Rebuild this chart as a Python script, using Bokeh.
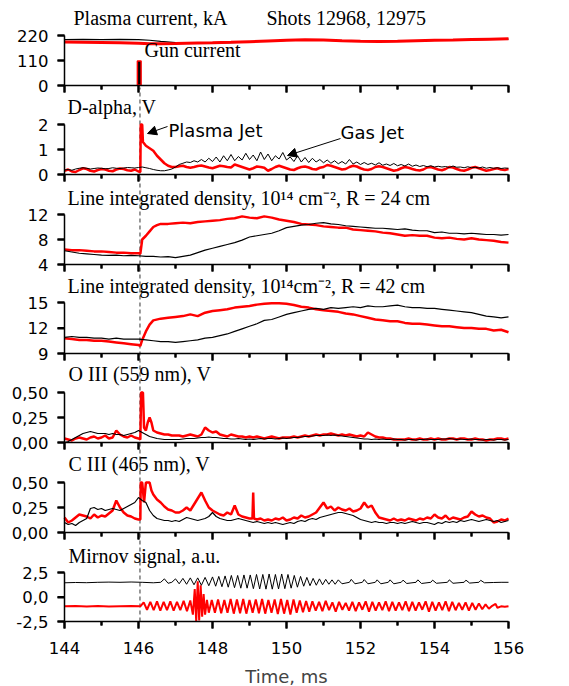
import numpy as np
from bokeh.plotting import figure
from bokeh.models import (Range1d, LinearAxis, FixedTicker, CustomJSTickFormatter,
                          Label, Arrow, NormalHead)
from bokeh.embed import file_html
from bokeh.resources import INLINE

# ---------------- data ----------------
x_ticks = [144, 146, 148, 150, 152, 154, 156]
x_minor = [145, 147, 149, 151, 153, 155]

# Plasma current, kA
pc_t = [144.0, 144.5, 145.0, 145.5, 146.0, 146.3, 146.6, 147.0, 147.3, 147.6, 148.0, 148.5, 149.0,
        149.5, 150.0, 150.5, 151.0, 151.5, 152.0, 152.5, 153.0, 153.5, 154.0, 154.5, 155.0, 155.5, 156.0]
pc_black = [202, 203, 202, 203, 202, 199, 194, 189, 186, 186, 187, 189, 192,
            195, 198, 200, 199, 196, 194, 193, 194, 196, 198, 199, 201, 203, 204]
pc_red = [191, 190, 189, 188, 186, 184, 184, 185, 186, 187, 188, 190, 193,
          196, 199, 201, 200, 197, 195, 194, 195, 197, 199, 200, 202, 204, 206]
gun_t = 146.02
gun_width = 0.1
gun_amp = 108
gun_base = 2

# D-alpha, V
da_black_t = np.linspace(144.0, 156.0, 121)
da_black = [0.18, 0.2, 0.17, 0.22, 0.25, 0.27, 0.25, 0.22, 0.24, 0.26, 0.25, 0.23, 0.24, 0.27, 0.25, 0.24, 0.26, 0.28, 0.27, 0.26, 0.28,
            0.3, 0.27, 0.24, 0.2, 0.17, 0.15, 0.15, 0.18, 0.22, 0.3,
            0.4, 0.45, 0.5, 0.48, 0.55, 0.5, 0.6, 0.5, 0.65, 0.52,
            0.7, 0.5, 0.75, 0.55, 0.8, 0.55, 0.72, 0.58, 0.85, 0.6,
            0.78, 0.55, 0.9, 0.6, 0.82, 0.55, 0.75, 0.62, 0.88, 0.58,
            0.7, 0.52, 0.75, 0.5, 0.68, 0.48, 0.65, 0.5, 0.6, 0.47,
            0.58, 0.45, 0.55, 0.43, 0.52, 0.42, 0.6, 0.42, 0.5, 0.4,
            0.48, 0.4, 0.45, 0.38, 0.47, 0.37, 0.42, 0.36, 0.44, 0.35,
            0.4, 0.34, 0.42, 0.33, 0.38, 0.32, 0.36, 0.31, 0.35, 0.3,
            0.33, 0.3, 0.32, 0.28, 0.34, 0.29, 0.3, 0.27, 0.31, 0.27,
            0.29, 0.26, 0.3, 0.25, 0.28, 0.25, 0.27, 0.24, 0.26, 0.25]
da_red_t = (list(np.linspace(144.0, 146.0, 21))
            + [146.05, 146.06, 146.1, 146.12, 146.2, 146.3, 146.4, 146.5, 146.6, 146.7, 146.8, 146.9, 147.0]
            + list(np.linspace(147.1, 156.0, 90)))
da_red = [0.15, 0.2, 0.12, 0.1, 0.18, 0.25, 0.22, 0.15, 0.12, 0.18, 0.22, 0.2, 0.15, 0.13, 0.2, 0.24, 0.22, 0.17, 0.15, 0.2, 0.12,
          0.1, 2.0, 2.0, 1.3, 1.15, 1.05, 0.95, 0.75, 0.6, 0.45, 0.35, 0.3, 0.3,
          0.33, 0.35, 0.3, 0.27, 0.3, 0.34, 0.36, 0.32, 0.28, 0.25,
          0.3, 0.35, 0.33, 0.3, 0.28, 0.4, 0.35, 0.3, 0.25, 0.2,
          0.25, 0.32, 0.3, 0.27, 0.15, 0.22, 0.3, 0.35, 0.3, 0.25,
          0.2, 0.18, 0.25, 0.3, 0.32, 0.28, 0.22, 0.2, 0.27, 0.3,
          0.38, 0.35, 0.3, 0.25, 0.2, 0.22, 0.3, 0.35, 0.32, 0.25,
          0.2, 0.18, 0.22, 0.3, 0.33, 0.3, 0.25, 0.2, 0.15, 0.18,
          0.25, 0.3, 0.27, 0.22, 0.18, 0.16, 0.2, 0.28, 0.3, 0.25,
          0.2, 0.17, 0.22, 0.3, 0.28, 0.22, 0.17, 0.15, 0.2, 0.27,
          0.3, 0.25, 0.2, 0.15, 0.18, 0.22, 0.25, 0.2, 0.18, 0.22]

# Line integrated density, R = 24 cm
n24_black_t = np.linspace(144.0, 156.0, 61)
n24_black = [6.2, 6.0, 5.8, 5.7, 5.6, 5.5, 5.45, 5.5, 5.4, 5.45, 5.4, 5.3, 5.3, 5.2, 5.25, 5.1, 5.3, 5.5, 5.9, 6.3,
             6.6, 6.9, 7.2, 7.5, 7.9, 8.4, 8.6, 8.8, 9.0, 9.4, 9.9, 10.1, 10.3, 10.4, 10.6, 10.7, 10.5, 10.4, 10.2, 10.1,
             10.0, 9.9, 9.8, 9.8, 9.7, 9.6, 9.7, 9.5, 9.4, 9.4, 9.1, 9.2, 9.0, 9.0, 8.9, 9.0, 8.9, 8.8, 8.8, 8.7, 8.8]
n24_red_t = (list(np.linspace(144.0, 146.0, 11))
             + [146.05, 146.1, 146.2, 146.3, 146.4, 146.5, 146.6, 146.8, 147.0]
             + list(np.linspace(147.2, 156.0, 45)))
n24_red = [6.4, 6.3, 6.3, 6.2, 6.1, 6.1, 6.0, 5.9, 5.9, 5.8, 5.8,
           5.7, 8.0, 8.6, 9.3, 10.0, 10.3, 10.5, 10.5, 10.6,
           10.7, 10.6, 10.8, 10.9, 11.0, 11.1, 11.3, 11.4, 11.7, 11.5, 11.4, 11.7, 11.5, 11.2, 11.0,
           10.8, 10.5, 10.4, 10.3, 10.1, 10.0, 9.9, 9.9, 9.6, 9.5, 9.4, 9.3, 9.1, 9.0, 8.8,
           8.6, 8.7, 8.6, 8.6, 8.3, 8.2, 8.3, 8.1, 8.0, 8.2, 8.0, 7.9, 7.8, 7.6, 7.5]

# Line integrated density, R = 42 cm
n42_black_t = np.linspace(144.0, 156.0, 61)
n42_black = [10.9, 11.0, 10.9, 10.9, 10.8, 10.8, 10.7, 10.8, 10.7, 10.7, 10.7, 10.6, 10.5, 10.4, 10.4, 10.3, 10.4, 10.5, 10.6, 10.8,
             10.9, 11.1, 11.3, 11.6, 11.9, 12.2, 12.5, 12.9, 13.0, 13.3, 13.6, 13.8, 14.0, 14.2, 14.3, 14.2, 14.4, 14.3, 14.4, 14.5,
             14.4, 14.6, 14.5, 14.5, 14.6, 14.7, 14.5, 14.4, 14.4, 14.3, 14.3, 14.2, 14.1, 14.0, 13.9, 13.8, 13.6, 13.4, 13.3, 13.2, 13.3]
n42_red_t = (list(np.linspace(144.0, 146.0, 11))
             + [146.05, 146.1, 146.2, 146.3, 146.4, 146.6, 146.8, 147.0]
             + list(np.linspace(147.2, 156.0, 45)))
n42_red = [10.8, 10.7, 10.6, 10.6, 10.5, 10.5, 10.4, 10.3, 10.2, 10.1, 10.0,
           9.9, 10.6, 11.6, 12.4, 12.9, 13.1, 13.2, 13.3,
           13.4, 13.6, 13.4, 13.8, 14.0, 14.1, 14.2, 14.4, 14.5, 14.6, 14.75, 14.85, 14.9, 14.9, 14.85,
           14.7, 14.5, 14.4, 14.2, 14.1, 14.0, 13.9, 13.7, 13.6, 13.4, 13.2, 13.0, 12.9, 12.8, 12.8,
           12.6, 12.5, 12.5, 12.4, 12.3, 12.2, 12.2, 12.1, 12.0, 12.0, 11.9, 11.9, 11.7, 11.8, 11.5]

# O III (559 nm), V
o3_black_t = np.linspace(144.0, 156.0, 121)
o3_black = [0.0, 0.01, 0.03, 0.05, 0.07, 0.09, 0.1, 0.11, 0.1, 0.09, 0.09,
            0.09, 0.08, 0.09, 0.08, 0.08, 0.07, 0.08, 0.09, 0.1, 0.12,
            0.1, 0.08, 0.06, 0.05, 0.04, 0.035, 0.03, 0.03, 0.03, 0.03,
            0.03, 0.035, 0.04, 0.04, 0.04, 0.045, 0.05, 0.05, 0.055, 0.05,
            0.05, 0.045, 0.04, 0.04, 0.035, 0.035, 0.04, 0.035, 0.03, 0.035,
            0.03, 0.035, 0.04, 0.035, 0.04, 0.04, 0.035, 0.04, 0.045, 0.04,
            0.045, 0.05, 0.05, 0.055, 0.06, 0.06, 0.065, 0.07, 0.07, 0.07,
            0.075, 0.07, 0.075, 0.07, 0.065, 0.06, 0.055, 0.05, 0.045, 0.04,
            0.035, 0.035, 0.03, 0.035, 0.03, 0.035, 0.03, 0.03, 0.035, 0.03,
            0.03, 0.025, 0.03, 0.03, 0.025, 0.03, 0.03, 0.035, 0.03, 0.03,
            0.03, 0.035, 0.035, 0.04, 0.035, 0.03, 0.035, 0.03, 0.03, 0.035,
            0.03, 0.03, 0.025, 0.03, 0.03, 0.025, 0.03, 0.03, 0.025, 0.03]
o3_red_t = (list(np.linspace(144.0, 146.0, 21))
            + [146.05, 146.07, 146.12, 146.15, 146.2, 146.25, 146.3, 146.35, 146.4, 146.5, 146.6, 146.7, 146.8, 146.9, 147.0]
            + list(np.linspace(147.1, 156.0, 90)))
o3_red = [0.04, 0.03, 0.02, 0.04, 0.05, 0.04, 0.03, 0.05, 0.06, 0.04, 0.05, 0.07, 0.04, 0.05, 0.12, 0.08, 0.06, 0.05, 0.07, 0.05, 0.04,
          0.03, 0.5, 0.5, 0.15, 0.12, 0.2, 0.25, 0.2, 0.12, 0.1, 0.09, 0.08, 0.08, 0.07, 0.07,
          0.07, 0.06, 0.07, 0.08, 0.07, 0.06, 0.08, 0.15, 0.12, 0.1,
          0.11, 0.08, 0.07, 0.06, 0.08, 0.07, 0.06, 0.06, 0.05, 0.06,
          0.05, 0.06, 0.05, 0.04, 0.05, 0.06, 0.05, 0.04, 0.05, 0.05,
          0.05, 0.06, 0.05, 0.06, 0.07, 0.06, 0.07, 0.08, 0.07, 0.08,
          0.08, 0.09, 0.08, 0.07, 0.08, 0.07, 0.08, 0.07, 0.06, 0.07,
          0.06, 0.1, 0.08, 0.06, 0.05, 0.05, 0.04, 0.04, 0.03, 0.03,
          0.03, 0.03, 0.04, 0.03, 0.03, 0.04, 0.03, 0.03, 0.04, 0.03,
          0.04, 0.03, 0.03, 0.04, 0.04, 0.03, 0.04, 0.04, 0.03, 0.03,
          0.04, 0.03, 0.03, 0.02, 0.03, 0.03, 0.04, 0.04, 0.03, 0.04]

# C III (465 nm), V
c3_black_t = np.linspace(144.0, 156.0, 121)
c3_black = [0.1, 0.08, 0.09, 0.07, 0.1, 0.12, 0.14, 0.24, 0.25, 0.23, 0.24,
            0.22, 0.23, 0.24, 0.23, 0.22, 0.24, 0.26, 0.28, 0.3, 0.35,
            0.32, 0.3, 0.22, 0.17, 0.14, 0.13, 0.12, 0.12, 0.11, 0.12,
            0.11, 0.13, 0.15, 0.14, 0.13, 0.12, 0.13, 0.14, 0.16, 0.2,
            0.16, 0.14, 0.13, 0.12, 0.12, 0.13, 0.14, 0.13, 0.12, 0.11,
            0.1, 0.11, 0.1, 0.09, 0.1, 0.09, 0.1, 0.09, 0.08, 0.09,
            0.1, 0.09, 0.11, 0.12, 0.11, 0.13, 0.14, 0.13, 0.15, 0.16,
            0.17, 0.18, 0.19, 0.2, 0.2, 0.19, 0.18, 0.17, 0.15, 0.13,
            0.12, 0.11, 0.1, 0.11, 0.1, 0.1, 0.09, 0.1, 0.1, 0.09,
            0.1, 0.09, 0.1, 0.11, 0.1, 0.09, 0.1, 0.1, 0.09, 0.08,
            0.1, 0.09, 0.11, 0.1, 0.11, 0.1, 0.12, 0.11, 0.12, 0.13,
            0.12, 0.11, 0.12, 0.13, 0.12, 0.11, 0.12, 0.1, 0.11, 0.12]
c3_red_t = (list(np.linspace(144.0, 146.0, 21))
            + [146.05, 146.06, 146.1, 146.15, 146.2, 146.3, 146.35, 146.4, 146.5, 146.6, 146.7, 146.8, 146.9, 147.0]
            + list(np.linspace(147.1, 149.0, 20))
            + [149.08, 149.1, 149.12]
            + list(np.linspace(149.2, 156.0, 69)))
c3_red = [0.15, 0.1, 0.12, 0.15, 0.18, 0.17, 0.16, 0.14, 0.18, 0.15, 0.17, 0.16, 0.19, 0.22, 0.32, 0.25, 0.2, 0.17, 0.16, 0.14, 0.13,
          0.13, 0.5, 0.5, 0.3, 0.5, 0.5, 0.42, 0.38, 0.33, 0.3, 0.26, 0.23, 0.22, 0.2,
          0.2, 0.22, 0.25, 0.22, 0.28, 0.34, 0.4, 0.32, 0.25, 0.22,
          0.2, 0.18, 0.17, 0.2, 0.18, 0.27, 0.18, 0.16, 0.15, 0.14,
          0.14, 0.4, 0.14,
          0.13, 0.14, 0.12, 0.13, 0.12, 0.14, 0.13, 0.15, 0.12,
          0.13, 0.15, 0.14, 0.17, 0.15, 0.16, 0.18, 0.2, 0.25, 0.3,
          0.24, 0.26, 0.22, 0.25, 0.23, 0.22, 0.24, 0.21, 0.22, 0.24,
          0.3, 0.25, 0.27, 0.2, 0.15, 0.14, 0.13, 0.12, 0.14, 0.12,
          0.13, 0.12, 0.14, 0.13, 0.12, 0.14, 0.13, 0.15, 0.14, 0.18,
          0.15, 0.14, 0.17, 0.13, 0.15, 0.14, 0.13, 0.15, 0.16, 0.21,
          0.18, 0.16, 0.17, 0.15, 0.14, 0.1, 0.11, 0.13, 0.12, 0.14]

# Mirnov signal, a.u.
mir_black_t = [144.0, 144.3, 144.6, 144.9, 145.2, 145.5, 145.8, 146.1, 146.4, 146.6,
               146.7, 146.8, 146.9, 147.0, 147.1, 147.2, 147.3, 147.4, 147.5, 147.6, 147.7, 147.8, 147.9,
               148.0, 148.085, 148.17, 148.255, 148.34, 148.425, 148.51, 148.595, 148.68, 148.765,
               148.85, 148.935, 149.02, 149.105, 149.19, 149.275, 149.36, 149.445, 149.53, 149.615,
               149.7, 149.785, 149.87, 149.955, 150.04, 150.125, 150.21, 150.295, 150.38, 150.465,
               150.55, 150.635, 150.72, 150.805, 150.89, 150.975, 151.06, 151.145, 151.23, 151.315,
               151.4, 151.5, 151.7, 151.75, 151.85, 152.05, 152.1, 152.2, 152.4, 152.45, 152.55,
               152.75, 152.8, 152.9, 153.1, 153.15, 153.25, 153.5, 153.55, 153.65, 153.9, 153.95,
               154.05, 154.35, 154.4, 154.5, 154.8, 154.85, 154.95, 155.2, 155.25, 155.35, 155.6, 155.8, 156.0]
mir_black = [1.45, 1.48, 1.46, 1.5, 1.52, 1.5, 1.53, 1.5, 1.45, 1.5,
             1.85, 1.4, 1.5, 1.85, 1.35, 1.9, 1.3, 1.95, 1.25, 1.95, 1.2, 2.0, 1.15,
             2.05, 1.1, 2.1, 1.05, 2.15, 1.0, 2.2, 0.95, 2.2, 0.9,
             2.25, 0.9, 2.25, 0.85, 2.3, 0.82, 2.3, 0.8, 2.35, 0.8,
             2.3, 0.82, 2.35, 0.85, 2.3, 0.9, 2.2, 1.0, 2.1, 1.1,
             2.0, 1.15, 1.9, 1.2, 1.85, 1.25, 1.8, 1.3, 1.75, 1.3,
             1.75, 1.35, 1.5, 1.8, 1.35, 1.5, 1.78, 1.35, 1.5, 1.75, 1.35,
             1.5, 1.75, 1.35, 1.5, 1.72, 1.38, 1.5, 1.75, 1.38, 1.5, 1.72,
             1.4, 1.5, 1.75, 1.4, 1.5, 1.72, 1.42, 1.5, 1.7, 1.45, 1.48, 1.5, 1.5]
mir_red_t = [144.0, 144.3, 144.6, 144.9, 145.2, 145.5, 145.8, 146.05,
             146.14, 146.23, 146.32, 146.41, 146.5, 146.59, 146.68, 146.77, 146.86, 146.95, 147.04, 147.13,
             147.22, 147.31, 147.4,
             147.47, 147.52, 147.56, 147.6, 147.64, 147.68, 147.72, 147.76, 147.8, 147.85, 147.9,
             147.98, 148.065, 148.15, 148.235, 148.32, 148.405, 148.49, 148.575, 148.66, 148.745,
             148.83, 148.915, 149.0, 149.085, 149.17, 149.255, 149.34, 149.425, 149.51, 149.595,
             149.68, 149.765, 149.85, 149.935, 150.02, 150.105, 150.19, 150.275, 150.36, 150.445,
             150.53, 150.615,
             150.7, 150.79, 150.88, 150.97, 151.06, 151.15, 151.24, 151.33, 151.42, 151.51,
             151.6, 151.69, 151.78, 151.87, 151.96, 152.05, 152.14, 152.23, 152.32, 152.41,
             152.5, 152.59, 152.68, 152.77, 152.86, 152.95, 153.04, 153.13, 153.22, 153.31,
             153.4, 153.49, 153.58, 153.67, 153.76, 153.85, 153.94, 154.03, 154.12, 154.21,
             154.3, 154.39, 154.48, 154.57, 154.66, 154.75, 154.84, 154.93, 155.02, 155.11,
             155.2, 155.29, 155.38, 155.47, 155.56, 155.65, 155.7, 155.8, 155.9, 156.0]
mir_red = [-0.95, -0.92, -0.97, -0.93, -0.96, -0.94, -0.92, -0.95,
           -0.55, -1.3, -0.5, -1.35, -0.45, -1.4, -0.5, -1.35, -0.45, -1.4, -0.5, -1.35,
           -0.4, -1.45, -0.35,
           -1.8, 0.8, -2.5, 1.6, -2.4, 1.2, -2.0, 0.3, -1.8, -0.3, -1.6,
           -0.3, -1.6, -0.25, -1.65, -0.3, -1.6, -0.2, -1.7, -0.25, -1.65,
           -0.2, -1.7, -0.3, -1.6, -0.25, -1.65, -0.2, -1.7, -0.3, -1.6,
           -0.25, -1.75, -0.2, -1.7, -0.3, -1.8, -0.25, -1.6, -0.35, -1.55,
           -0.4, -1.5,
           -0.45, -1.4, -0.5, -1.45, -0.4, -1.35, -0.55, -1.5, -0.5, -1.3,
           -0.6, -1.4, -0.5, -1.45, -0.55, -1.3, -0.45, -1.5, -0.5, -1.4,
           -0.55, -1.35, -0.45, -1.45, -0.5, -1.4, -0.55, -1.35, -0.45, -1.45,
           -0.5, -1.4, -0.55, -1.3, -0.45, -1.5, -0.5, -1.4, -0.55, -1.35,
           -0.45, -1.45, -0.5, -1.35, -0.6, -1.3, -0.55, -1.4, -0.6, -1.3,
           -0.65, -1.25, -0.75, -1.2, -0.9, -0.7, -1.1, -0.95, -1.0, -0.95]

# ---------------- layout ----------------
W, H = 569, 686
LEFT, RIGHT = 64, 508          # pixel positions of t = 144 and t = 156
X0, X1 = 144.0, 156.0
TICK_MAJOR, TICK_MINOR = 7, 4  # tick lengths, px

# name, lo, hi, top px, bottom px, ticks, decimals
panels = [
    ("p1", 0, 220, 35, 85, [0, 110, 220], 0),
    ("p2", 0, 2, 124, 174, [0, 1, 2], 0),
    ("p3", 4, 12, 214, 264, [4, 8, 12], 0),
    ("p4", 9, 15, 302, 353, [9, 12, 15], 0),
    ("p5", 0, 0.5, 392, 442, [0, 0.25, 0.5], 2),
    ("p6", 0, 0.5, 482, 532, [0, 0.25, 0.5], 2),
    ("default", -2.5, 2.5, 572, 621, [-2.5, 0, 2.5], 1),
]
geo = {p[0]: p for p in panels}

# the frame covers the whole canvas
XS = (X1 - X0) / (RIGHT - LEFT)
x_range = Range1d(X0 - LEFT * XS, X1 + (W - RIGHT) * XS)


def make_range(lo, hi, top, bot):
    s = (hi - lo) / (bot - top)
    return Range1d(start=lo - (H - bot) * s, end=hi + top * s)


def ys(name):
    _, lo, hi, top, bot, _, _ = geo[name]
    return (hi - lo) / (bot - top)


def py(name, ypix):
    _, lo, hi, top, bot, _, _ = geo[name]
    return lo + (bot - ypix) * ys(name)


def px(xpix):
    return X0 + (xpix - LEFT) * XS


ranges = {p[0]: make_range(p[1], p[2], p[3], p[4]) for p in panels}

p = figure(width=W, height=H, output_backend="svg", toolbar_location=None,
           x_range=x_range, y_range=ranges["default"],
           x_axis_location=None, y_axis_location=None,
           min_border_left=0, min_border_right=0, min_border_top=0, min_border_bottom=0)
p.extra_y_ranges = {k: v for k, v in ranges.items() if k != "default"}
p.outline_line_color = None
p.background_fill_color = "white"
p.border_fill_color = "white"
p.xgrid.grid_line_color = None
p.ygrid.grid_line_color = None

TICK_FONT = "DejaVu Sans"
for name, lo, hi, top, bot, ticks, dec in panels:
    ya = LinearAxis(y_range_name=name, fixed_location=X0, bounds=(lo, hi),
                    ticker=FixedTicker(ticks=ticks, minor_ticks=[]))
    if dec:
        ya.formatter = CustomJSTickFormatter(code="return tick.toFixed(%d).replace('.', ',')" % dec)
    ya.axis_line_width = 1.5
    ya.axis_line_color = "black"
    ya.major_tick_line_width = 2
    ya.major_tick_in = 0
    ya.major_tick_out = TICK_MAJOR
    ya.minor_tick_line_color = None
    ya.major_label_standoff = 9
    ya.major_label_text_font = TICK_FONT
    ya.major_label_text_font_size = "16.5px"
    ya.major_label_text_color = "black"
    p.add_layout(ya, "left")

    xa = LinearAxis(y_range_name=name, fixed_location=lo, bounds=(X0, X1),
                    ticker=FixedTicker(ticks=x_ticks, minor_ticks=x_minor))
    xa.axis_line_width = 1.5
    xa.axis_line_color = "black"
    xa.major_tick_line_width = 2
    xa.minor_tick_line_width = 2
    xa.major_tick_in = 0
    xa.major_tick_out = TICK_MAJOR
    xa.minor_tick_in = 0
    xa.minor_tick_out = TICK_MINOR
    xa.major_label_standoff = 13
    xa.major_label_text_font = TICK_FONT
    xa.major_label_text_font_size = "16.5px"
    xa.major_label_text_color = "black"
    if name == "default":
        xa.axis_label = "Time, ms"
        xa.axis_label_text_font = TICK_FONT
        xa.axis_label_text_font_size = "18px"
        xa.axis_label_text_font_style = "normal"
        xa.axis_label_standoff = 9
    else:
        xa.major_label_text_font_size = "0px"
        xa.major_label_text_color = None
    p.add_layout(xa, "below")

    # tick marks (drawn as segments as well, so that they show at fixed-location axes)
    p.segment(x0=[X0] * len(ticks), y0=ticks, x1=[X0 - TICK_MAJOR * XS] * len(ticks), y1=ticks,
              y_range_name=name, line_color="black", line_width=2)
    p.segment(x0=x_ticks, y0=[lo] * len(x_ticks), x1=x_ticks, y1=[lo - TICK_MAJOR * ys(name)] * len(x_ticks),
              y_range_name=name, line_color="black", line_width=2)
    p.segment(x0=x_minor, y0=[lo] * len(x_minor), x1=x_minor, y1=[lo - TICK_MINOR * ys(name)] * len(x_minor),
              y_range_name=name, line_color="black", line_width=2)

RED = "#ff0000"
# dashed line at gun pulse
p.segment(x0=[gun_t + 0.02], y0=[-2.5], x1=[gun_t + 0.02], y1=[py("default", 87)],
          line_color="#333333", line_width=1, line_dash="4 3")

# panel 1
p.line(pc_t, pc_black, y_range_name="p1", line_color="black", line_width=1.2)
p.line(pc_t, pc_red, y_range_name="p1", line_color=RED, line_width=3)
p.vbar(x=[gun_t], width=gun_width, top=[gun_amp], bottom=[gun_base], y_range_name="p1",
       fill_color="black", line_color=RED, line_width=1.5)

# panel 2
p.line(da_red_t, da_red, y_range_name="p2", line_color=RED, line_width=2.5)
p.line(da_black_t, da_black, y_range_name="p2", line_color="black", line_width=1)
# panel 3
p.line(n24_red_t, n24_red, y_range_name="p3", line_color=RED, line_width=2.5)
p.line(n24_black_t, n24_black, y_range_name="p3", line_color="black", line_width=1.2)
# panel 4
p.line(n42_red_t, n42_red, y_range_name="p4", line_color=RED, line_width=2.5)
p.line(n42_black_t, n42_black, y_range_name="p4", line_color="black", line_width=1.2)
# panel 5
p.line(o3_red_t, o3_red, y_range_name="p5", line_color=RED, line_width=2.5)
p.line(o3_black_t, o3_black, y_range_name="p5", line_color="black", line_width=1.2)
# panel 6
p.line(c3_red_t, c3_red, y_range_name="p6", line_color=RED, line_width=2.5)
p.line(c3_black_t, c3_black, y_range_name="p6", line_color="black", line_width=1.2)
# panel 7
p.line(mir_red_t, mir_red, line_color=RED, line_width=2)
p.line(mir_black_t, mir_black, line_color="black", line_width=1)

SERIF = "Liberation Serif"


def add_label(text, xpix, ypix, name, font=SERIF, size="20px"):
    p.add_layout(Label(x=px(xpix), y=py(name, ypix), y_range_name=name, text=text,
                       text_font=font, text_font_size=size, text_baseline="middle",
                       text_align="left", text_color="black"))


add_label("Plasma current, kA", 73, 17, "p1")
add_label("Shots 12968, 12975", 266, 17, "p1")
add_label("Gun current", 144, 49, "p1")
add_label("D-alpha, V", 67, 106, "p2")
add_label("Line integrated density, 10\u00b9\u2074 cm\u207b\u00b2, R = 24 cm", 67, 197, "p3")
add_label("Line integrated density, 10\u00b9\u2074cm\u207b\u00b2, R = 42 cm", 67, 285, "p4")
add_label("O III (559 nm), V", 68, 373, "p5")
add_label("C III (465 nm), V", 68, 463, "p6")
add_label("Mirnov signal, a.u.", 68, 555, "default")
add_label("Plasma Jet", 168, 130, "p2", font=TICK_FONT, size="18px")
add_label("Gas Jet", 340, 132, "p2", font=TICK_FONT, size="18px")

p.add_layout(Arrow(end=NormalHead(size=9, fill_color="black", line_color="black"),
                   x_start=px(167), y_start=py("p2", 126), x_end=px(147), y_end=py("p2", 133),
                   y_range_name="p2", line_color="black", line_width=1))
p.add_layout(Arrow(end=NormalHead(size=9, fill_color="black", line_color="black"),
                   x_start=px(340), y_start=py("p2", 138), x_end=px(287), y_end=py("p2", 155),
                   y_range_name="p2", line_color="black", line_width=1))

open("out.html", "w").write(file_html(p, INLINE))
